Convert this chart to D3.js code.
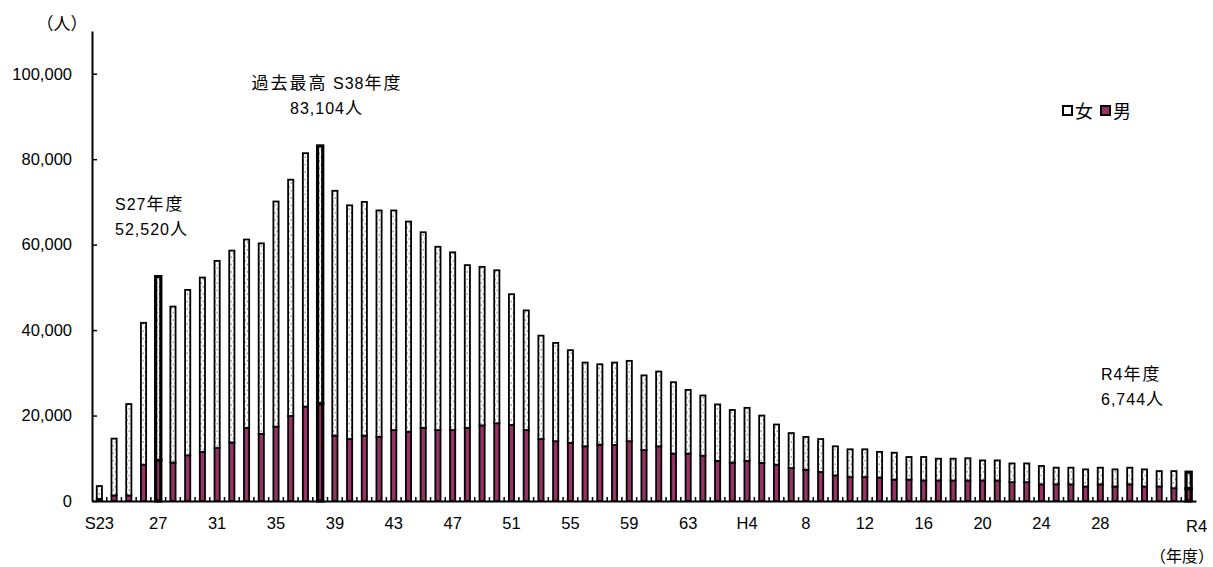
<!DOCTYPE html>
<html><head><meta charset="utf-8">
<script src="https://cdn.jsdelivr.net/npm/d3@7"></script>
<style>body{margin:0;background:#fff}</style>
</head><body>
<svg id="c" width="1213" height="567" xmlns="http://www.w3.org/2000/svg"></svg>
<script>
const years = ["S23","S24","S25","S26","S27","S28","S29","S30","S31","S32","S33","S34","S35","S36","S37","S38","S39","S40","S41","S42","S43","S44","S45","S46","S47","S48","S49","S50","S51","S52","S53","S54","S55","S56","S57","S58","S59","S60","S61","S62","S63",
"H1","H2","H3","H4","H5","H6","H7","H8","H9","H10","H11","H12","H13","H14","H15","H16","H17","H18","H19","H20","H21","H22","H23","H24","H25","H26","H27","H28","H29","H30",
"R1","R2","R3","R4"];
const total = [3500,14600,22700,41700,52520,45500,49400,52300,56200,58600,61200,60300,70100,75200,81400,83104,72600,69200,70000,68000,68000,65400,62900,59500,58200,55200,54800,54000,48400,44600,38700,37000,35300,32400,32000,32400,32800,29400,30300,27800,26000,
24700,22600,21300,21800,20000,17900,15900,15000,14500,12800,12100,12100,11500,11300,10300,10300,9900,9900,10000,9500,9500,8800,8800,8200,7800,7800,7400,7800,7400,7800,
7400,7000,7000,6744];
const male = [500,1300,1300,8500,9500,9000,10700,11500,12400,13700,17100,15700,17400,19900,22100,22800,15300,14500,15300,15000,16600,16200,17100,16600,16600,17100,17700,18200,17800,16600,14500,14000,13600,12800,13200,13100,14000,11900,12800,11100,11100,
10600,9400,9000,9400,8900,8500,7700,7300,6800,6000,5600,5600,5500,5000,5000,4800,4800,4800,4800,4800,4800,4400,4400,3900,3900,3900,3400,3900,3400,3900,
3400,3400,3000,2900];
const female = total.map((t,i)=>t-male[i]);
const tickCats = ["S23","S27","S31","S35","S39","S43","S47","S51","S55","S59","S63","H4","H8","H12","H16","H20","H24","H28","R4"];
const tickText = ["S23","27","31","35","39","43","47","51","55","59","63","H4","8","12","16","20","24","28","R4"];
const yTicks = [0,20000,40000,60000,80000,100000];
const highlighted = ["S27","S38","R4"];
const seriesNames = ["女","男"];
const annotations = [
  {lines:["過去最高  S38年度","83,104人"], anchor:"middle", x:327, y:89},
  {lines:["S27年度","52,520人"], anchor:"start", x:115, y:210},
  {lines:["R4年度","6,744人"], anchor:"start", x:1101, y:380}
];

const svg = d3.select("#c");
const defs = svg.append("defs");
const pat = defs.append("pattern").attr("id","dots").attr("patternUnits","userSpaceOnUse")
  .attr("width",4).attr("height",7.4);
pat.append("rect").attr("width",4).attr("height",7.4).attr("fill","#fff");
pat.append("circle").attr("cx",1.2).attr("cy",1.8).attr("r",0.65).attr("fill","#444");
pat.append("circle").attr("cx",3.2).attr("cy",5.5).attr("r",0.65).attr("fill","#444");

const MALE = "#993366";
const x = d3.scaleBand().domain(years).range([92,1196]).padding(0);
const y = d3.scaleLinear().domain([0,110000]).range([501,31]);
const bw = 5.2;

const isCJK = ch => /[\u3000-\u9fff\uff00-\uffef]/.test(ch);
function richText(sel, str){
  const runs=[]; let cur=null;
  for(const ch of str){ const c=isCJK(ch); if(!cur||cur.c!==c){cur={c,t:""};runs.push(cur);} cur.t+=ch; }
  runs.forEach(r=>{
    sel.append("tspan").text(r.t)
      .attr("font-family", r.c ? "'Noto Sans CJK JP'" : "'Liberation Sans', Arial, sans-serif")
      .attr("font-size", r.c ? 17 : 16)
      .attr("letter-spacing", r.c ? "2px" : "1px");
  });
}

// bars
const g = svg.append("g");
years.forEach((yr,i)=>{
  const cx = x(yr)+x.bandwidth()/2;
  const hl = highlighted.includes(yr);
  const sw = hl?3.2:1.8;
  g.append("rect").attr("x",cx-bw/2).attr("width",bw)
    .attr("y",y(male[i])).attr("height",y(0)-y(male[i]))
    .attr("fill",MALE).attr("stroke","#000").attr("stroke-width",sw);
  g.append("rect").attr("x",cx-bw/2).attr("width",bw)
    .attr("y",y(total[i])).attr("height",y(male[i])-y(total[i]))
    .attr("fill","url(#dots)").attr("stroke","#000").attr("stroke-width",sw);
});

// y axis
const ya = svg.append("g").attr("transform",`translate(${x.range()[0]},0)`)
  .call(d3.axisLeft(y).tickValues(yTicks).tickSize(-5).tickSizeOuter(0).tickPadding(20).tickFormat(d3.format(",")));
ya.select(".domain").attr("stroke","#000").attr("stroke-width",2);
ya.selectAll(".tick line").attr("stroke","#000").attr("stroke-width",1.5);
ya.selectAll("text").attr("font-family","'Liberation Sans', Arial, sans-serif").attr("font-size",16.5).attr("fill","#000");

// x axis
const xa = svg.append("g").attr("transform",`translate(0,${y(0)})`)
  .call(d3.axisBottom(x).tickValues(tickCats).tickSize(0).tickSizeOuter(0).tickPadding(16)
    .tickFormat(d=>tickText[tickCats.indexOf(d)]));
xa.select(".domain").attr("stroke","#000").attr("stroke-width",2);
xa.selectAll("text").attr("font-family","'Liberation Sans', Arial, sans-serif").attr("font-size",16.5).attr("fill","#000");
xa.selectAll(".tick").filter(d=>d==="R4").select("text").attr("transform","translate(8,3)");
// boundary tick marks
years.slice(1).forEach(yr=>{
  xa.append("line").attr("x1",x(yr)).attr("x2",x(yr)).attr("y1",0).attr("y2",-4)
    .attr("stroke","#000").attr("stroke-width",1.5);
});

// unit labels
svg.append("text").attr("x",62).attr("y",30).attr("text-anchor","middle")
  .attr("font-family","'Noto Sans CJK JP'").attr("font-size",17).text("（人）");
svg.append("text").attr("x",1214).attr("y",562).attr("text-anchor","end")
  .attr("font-family","'Noto Sans CJK JP'").attr("font-size",16).text("（年度）");

// legend
const lg = svg.append("g").attr("transform","translate(1062,105)");
lg.append("rect").attr("x",1).attr("y",1).attr("width",9).attr("height",9).attr("fill","#fff").attr("stroke","#000").attr("stroke-width",2);
lg.append("text").attr("x",13).attr("y",13).attr("font-family","'Noto Sans CJK JP'").attr("font-size",18).text(seriesNames[0]);
lg.append("rect").attr("x",39).attr("y",1).attr("width",9).attr("height",9).attr("fill",MALE).attr("stroke","#000").attr("stroke-width",2);
lg.append("text").attr("x",51).attr("y",13).attr("font-family","'Noto Sans CJK JP'").attr("font-size",18).text(seriesNames[1]);

// annotations
annotations.forEach(a=>{
  a.lines.forEach((ln,k)=>{
    const t = svg.append("text").attr("x",a.x).attr("y",a.y+k*24.5)
      .attr("text-anchor",a.anchor).attr("fill","#000");
    richText(t, ln);
  });
});
</script>
</body></html>
